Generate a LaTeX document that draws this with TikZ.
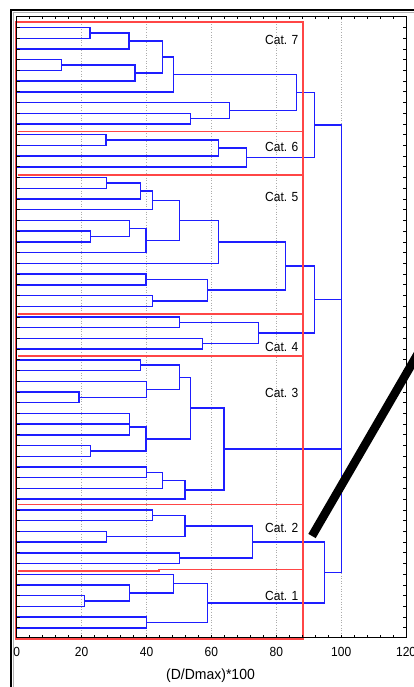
\documentclass[tikz,border=0pt]{standalone}
\usepackage{fontspec}
\setmainfont{Liberation Sans}
\usetikzlibrary{calc}
\definecolor{clublue}{RGB}{30,30,255}
\definecolor{catred}{RGB}{255,70,70}

% join two clusters (#2, #3) at horizontal position #4; the new cluster is #1
\newcommand\dendjoin[4]{%
  \coordinate (#1x) at (#4,0);
  \coordinate (#1m) at ($(#2)!0.5!(#3)$);
  \coordinate (#1) at (#1m -| #1x);
  \draw[link] (#2) -- (#2 -| #1x) -- (#3 -| #1x) -- (#3);
}

\begin{document}
\begin{tikzpicture}[x=1pt,y=-1pt,
  link/.style={draw=clublue,line width=1.45pt},
  catbox/.style={draw=catred,line width=1.6pt},
  gridline/.style={draw=gray!65,line width=0.6pt,dash pattern=on 1pt off 1.6pt},
  axisframe/.style={draw=black,line width=0.9pt},
  tickmark/.style={draw=black,line width=0.8pt},
  catlabel/.style={anchor=west,inner sep=0pt,font=\fontsize{12}{12}\selectfont,yscale=1.1},
  ticklabel/.style={inner sep=0pt,font=\fontsize{12}{12}\selectfont,yscale=1.1},
  axislabel/.style={inner sep=0pt,font=\fontsize{14}{14}\selectfont,yscale=1.05},
  pointer/.style={draw=black,line width=8.5pt},
]
\useasboundingbox (0,0) rectangle (414,687);
\fill[white] (0,0) rectangle (414,687);

% window frame
\draw[black,line width=2pt] (10.5,690) -- (10.5,9.8) -- (420,9.8);
\draw[gray!60,line width=0.6pt] (12.8,690) -- (12.8,12.4) -- (420,12.4);

% vertical grid lines at 20,40,...,100
\foreach \v in {20,40,60,80,100}
  \draw[gridline] ({16.7+3.245*\v},16.5) -- ({16.7+3.245*\v},637.7);

% leaves
\foreach \i in {1,...,57}
  \coordinate (l\i) at (16.7,{16.8+10.72*\i});

% Cat. 7
\dendjoin{ga}{l1}{l2}{90}
\dendjoin{gb}{ga}{l3}{129}
\dendjoin{gc}{l4}{l5}{61.7}
\dendjoin{gd}{gc}{l6}{135}
\dendjoin{ge}{gb}{gd}{162.3}
\dendjoin{gf}{ge}{l7}{173.3}
\dendjoin{gg}{l9}{l10}{190.7}
\dendjoin{gh}{l8}{gg}{229.3}
\dendjoin{gi}{gf}{gh}{296.7}
% Cat. 6
\dendjoin{gj}{l11}{l12}{106}
\dendjoin{gk}{gj}{l13}{218.3}
\dendjoin{gm}{gk}{l14}{246.7}
\dendjoin{gn}{gi}{gm}{314.3}
% Cat. 5
\dendjoin{go}{l15}{l16}{106.3}
\dendjoin{gp}{go}{l17}{140.7}
\dendjoin{gq}{gp}{l18}{152.3}
\dendjoin{gr}{l20}{l21}{90.3}
\dendjoin{gs}{l19}{gr}{129.3}
\dendjoin{gt}{gs}{l22}{146}
\dendjoin{gu}{gq}{gt}{179.3}
\dendjoin{gv}{gu}{l23}{218.3}
\dendjoin{gw}{l24}{l25}{146}
\dendjoin{gx}{l26}{l27}{152.3}
\dendjoin{gy}{gw}{gx}{207.7}
\dendjoin{gz}{gv}{gy}{285.7}
% Cat. 4
\dendjoin{ha}{l28}{l29}{179.3}
\dendjoin{hb}{l30}{l31}{202.3}
\dendjoin{hc}{ha}{hb}{258.3}
\dendjoin{hd}{gz}{hc}{314.3}
% Cat. 3
\dendjoin{he}{l32}{l33}{140.7}
\dendjoin{hf}{l35}{l36}{79}
\dendjoin{hg}{l34}{hf}{146.7}
\dendjoin{hh}{he}{hg}{179.3}
\dendjoin{hi}{l37}{l38}{129.3}
\dendjoin{hj}{hi}{l39}{129.3}
\dendjoin{hk}{l40}{l41}{90.3}
\dendjoin{hl}{hj}{hk}{146}
\dendjoin{hm}{hh}{hl}{190.7}
\dendjoin{hn}{l42}{l43}{146.7}
\dendjoin{ho}{hn}{l44}{162.3}
\dendjoin{hp}{ho}{l45}{185}
\dendjoin{hq}{hm}{hp}{224}
% Cat. 2
\dendjoin{hr}{l46}{l47}{152.3}
\dendjoin{hs}{l48}{l49}{106.3}
\dendjoin{ht}{hr}{hs}{185}
\dendjoin{hu}{l50}{l51}{179.3}
\dendjoin{hv}{ht}{hu}{252.3}
% Cat. 1
\dendjoin{hw}{l54}{l55}{84.7}
\dendjoin{hx}{l53}{hw}{129.3}
\dendjoin{hy}{l52}{hx}{173.7}
\dendjoin{hz}{l56}{l57}{146.7}
\dendjoin{ia}{hy}{hz}{207.3}
\dendjoin{ib}{hv}{ia}{324.3}
% top level at 100
\coordinate (rootx) at (341.7,0);
\draw[link] (gn) -- (gn -| rootx) -- (ib -| rootx) -- (ib);
\draw[link] (hd) -- (hd -| rootx);
\draw[link] (hq) -- (hq -| rootx);

% category boxes
\draw[catbox] (15.3,22) rectangle (302.7,639);
\foreach \y in {131.7,175,314,355.7,504.3}
  \draw[catbox] (17.5,\y) -- (302.7,\y);
\draw[catbox] (17.5,570.7) -- (159,570.7) -- (159,569.3) -- (302.7,569.3);

\node[catlabel] (c7) at (265,40) {Cat. 7};
\node[catlabel] (c6) at (265,147) {Cat. 6};
\node[catlabel] (c5) at (265,196.7) {Cat. 5};
\node[catlabel] (c4) at (265,346.7) {Cat. 4};
\node[catlabel] (c3) at (265,393.3) {Cat. 3};
\node[catlabel] (c2) at (265,527.7) {Cat. 2};
\node[catlabel] (c1) at (265,595.7) {Cat. 1};

% axes
\draw[axisframe] (16.7,16.5) rectangle (406,637.7);
\foreach \k in {0,...,30} {
  \draw[tickmark] ({16.7+12.98*\k},16.5) -- ({16.7+12.98*\k},19.5);
  \draw[tickmark] ({16.7+12.98*\k},637.7) -- ({16.7+12.98*\k},634.7);
}
\foreach \i in {1,...,57} {
  \draw[tickmark] (16.7,{16.8+10.72*\i}) -- (19.5,{16.8+10.72*\i});
  \draw[tickmark] (406,{16.8+10.72*\i}) -- (403,{16.8+10.72*\i});
}
\foreach \v in {0,20,...,120}
  \node[ticklabel] (t\v) at ({16.7+3.245*\v},651.7) {\v};
\node[axislabel] (xlab) at (210.5,676) {(D/Dmax)*100};

% pointer stroke
\draw[pointer] (312,536) -- (420,350);
\end{tikzpicture}
\end{document}
